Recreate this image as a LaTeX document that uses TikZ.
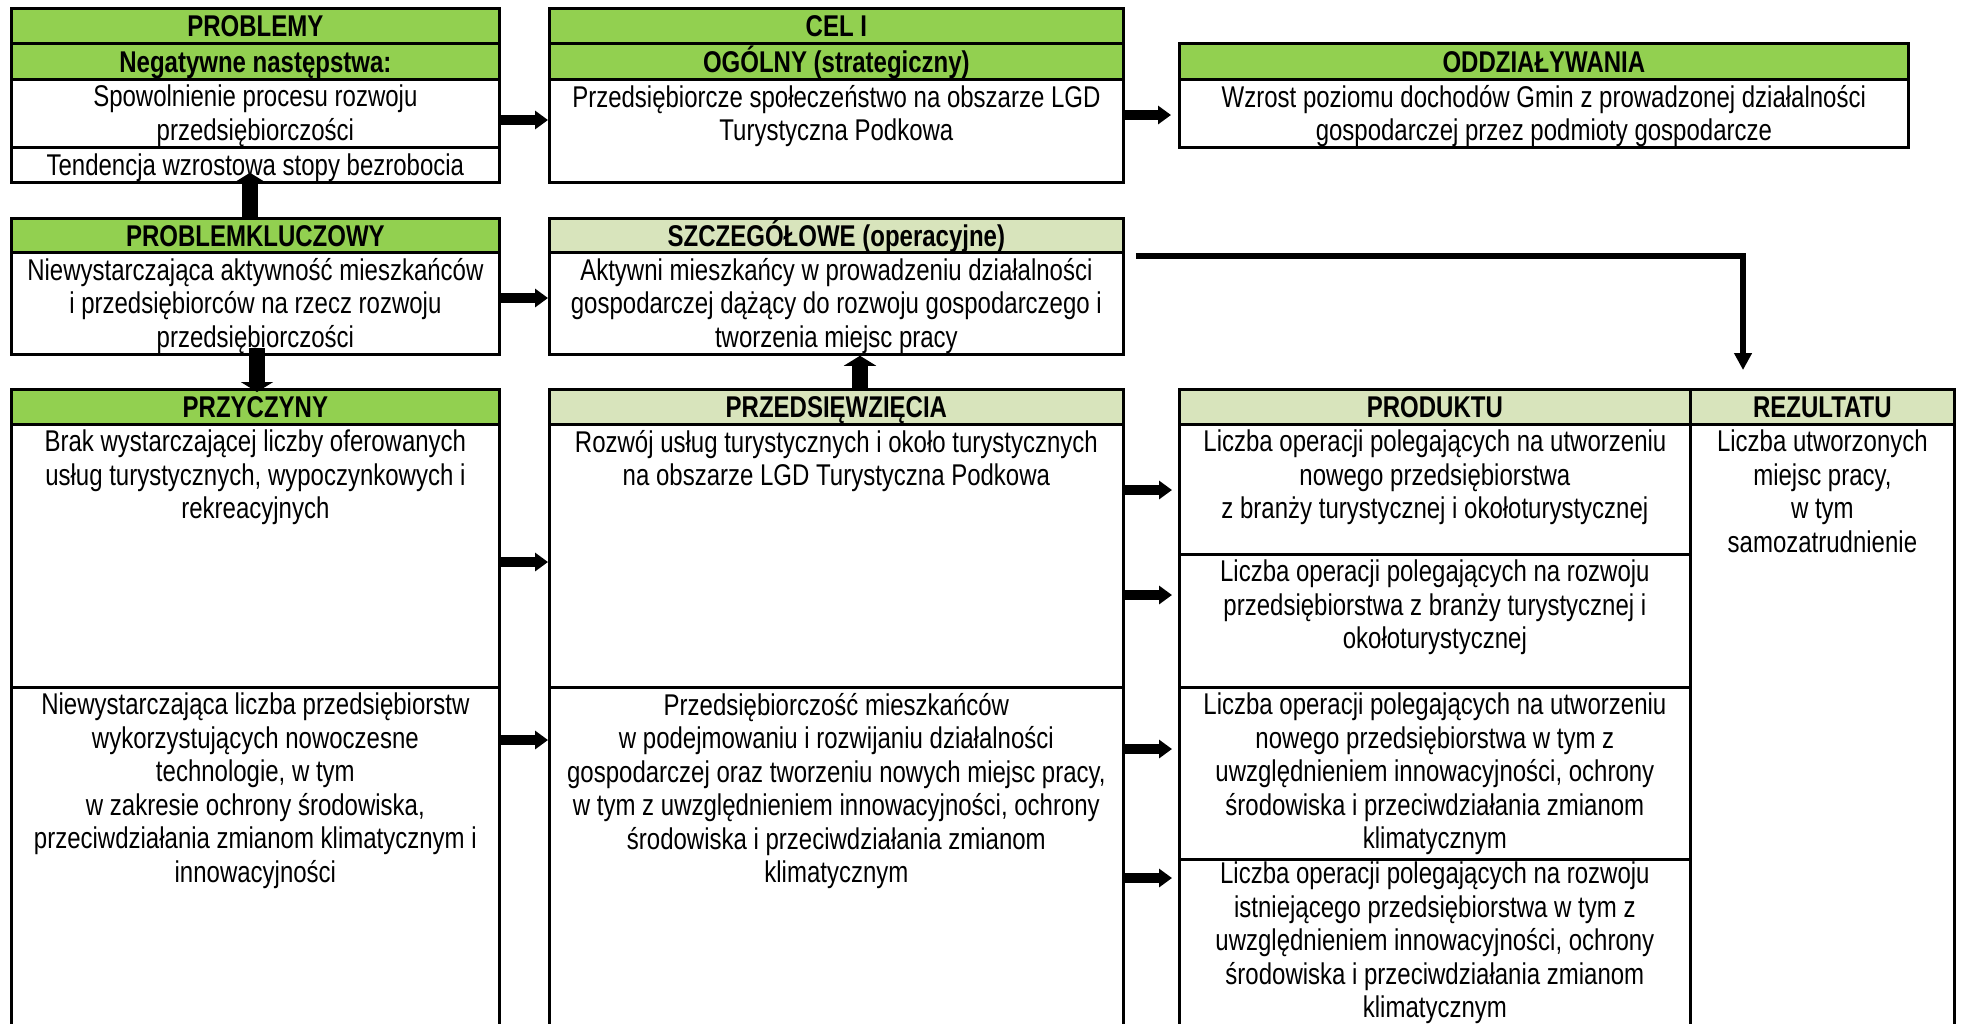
\documentclass[tikz,border=0pt]{standalone}
\usepackage{fontspec}
\setmainfont{Liberation Sans}[FakeStretch=0.8]
\usetikzlibrary{arrows.meta}

\definecolor{pgreen}{HTML}{92D050}
\definecolor{lgreen}{HTML}{D8E4BC}
\newcommand{\cellfont}{\fontsize{12}{13.4}\selectfont}

\tikzset{
  cellbox/.style 2 args={draw, line width=1.1pt, anchor=north west, inner sep=0pt,
    minimum width=#1*0.4pt, minimum height=#2*0.4pt, text height=8.6pt, text depth=0pt},
  hdr/.style={fill=pgreen, font=\cellfont\bfseries},
  lhdr/.style={fill=lgreen, font=\cellfont\bfseries},
  txt/.style={anchor=north, align=center, inner sep=0pt, yshift=-2.6pt,
    execute at begin node=\strut},
  harrow/.style={line width=4pt, -{Triangle[length=5.2pt,width=7.2pt]}},
  varrow/.style={line width=6.4pt, -{Triangle[length=4pt,width=12.8pt]}},
  conn/.style={line width=2.2pt, -{Triangle[length=6.8pt,width=6.8pt]}}
}

\begin{document}
\begin{tikzpicture}[x=0.4pt, y=-0.4pt, font=\cellfont]
        \clip (0,0) rectangle (1963,1023);

        % problemy
        \node[cellbox={488}{35}, hdr] (pbm) at (10,7) {PROBLEMY};
        \node[cellbox={488}{36}, hdr] (neg) at (10,42) {Negatywne następstwa:};
        \node[cellbox={488}{68}] (spow) at (10,78) {};
        \node[txt] (spowt) at (spow.north) {Spowolnienie procesu rozwoju\\przedsiębiorczości};
        \node[cellbox={488}{35}] (tend) at (10,146) {Tendencja wzrostowa stopy bezrobocia};

        \node[cellbox={488}{34}, hdr] (pk) at (10,217) {PROBLEMKLUCZOWY};
        \node[cellbox={488}{102}] (pkb) at (10,251) {};
        \node[txt] (pkbt) at (pkb.north) {Niewystarczająca aktywność mieszkańców\\i przedsiębiorców na rzecz rozwoju\\przedsiębiorczości};

        \node[cellbox={488}{35}, hdr] (prz) at (10,388) {PRZYCZYNY};
        \node[cellbox={488}{263}] (prz1) at (10,423) {};
        \node[txt] (prz1t) at (prz1.north) {Brak wystarczającej liczby oferowanych\\usług turystycznych, wypoczynkowych i\\rekreacyjnych};
        \node[cellbox={488}{345}] (prz2) at (10,686) {};
        \node[txt] (prz2t) at (prz2.north) {Niewystarczająca liczba przedsiębiorstw\\wykorzystujących nowoczesne\\technologie, w tym\\w zakresie ochrony środowiska,\\przeciwdziałania zmianom klimatycznym i\\innowacyjności};

        % cele
        \node[cellbox={574}{35}, hdr] (cel) at (548,7) {CEL I};
        \node[cellbox={574}{36}, hdr] (ogol) at (548,42) {OGÓLNY (strategiczny)};
        \node[cellbox={574}{103}] (celb) at (548,78) {};
        \node[txt] (celbt) at (celb.north) {Przedsiębiorcze społeczeństwo na obszarze LGD\\Turystyczna Podkowa};

        \node[cellbox={574}{34}, lhdr] (szcz) at (548,217) {SZCZEGÓŁOWE (operacyjne)};
        \node[cellbox={574}{102}] (szczb) at (548,251) {};
        \node[txt] (szczbt) at (szczb.north) {Aktywni mieszkańcy w prowadzeniu działalności\\gospodarczej dążący do rozwoju gospodarczego i\\tworzenia miejsc pracy};

        \node[cellbox={574}{35}, lhdr] (przd) at (548,388) {PRZEDSIĘWZIĘCIA};
        \node[cellbox={574}{263}] (przd1) at (548,423) {};
        \node[txt] (przd1t) at (przd1.north) {Rozwój usług turystycznych i około turystycznych\\na obszarze LGD Turystyczna Podkowa};
        \node[cellbox={574}{345}] (przd2) at (548,686) {};
        \node[txt] (przd2t) at (przd2.north) {Przedsiębiorczość mieszkańców\\w podejmowaniu i rozwijaniu działalności\\gospodarczej oraz tworzeniu nowych miejsc pracy,\\w tym z uwzględnieniem innowacyjności, ochrony\\środowiska i przeciwdziałania zmianom\\klimatycznym};

        % wskazniki
        \node[cellbox={729}{36}, hdr] (oddz) at (1178,42) {ODDZIAŁYWANIA};
        \node[cellbox={729}{68}] (oddzb) at (1178,78) {};
        \node[txt] (oddzt) at (oddzb.north) {Wzrost poziomu dochodów Gmin z prowadzonej działalności\\gospodarczej przez podmioty gospodarcze};

        \node[cellbox={511}{35}, lhdr] (prod) at (1178,388) {PRODUKTU};
        \node[cellbox={511}{130}] (prod1) at (1178,423) {};
        \node[txt] (prod1t) at (prod1.north) {Liczba operacji polegających na utworzeniu\\nowego przedsiębiorstwa\\z branży turystycznej i okołoturystycznej};
        \node[cellbox={511}{133}] (prod2) at (1178,553) {};
        \node[txt] (prod2t) at (prod2.north) {Liczba operacji polegających na rozwoju\\przedsiębiorstwa z branży turystycznej i\\okołoturystycznej};
        \node[cellbox={511}{172}] (prod3) at (1178,686) {};
        \node[txt] (prod3t) at (prod3.north) {Liczba operacji polegających na utworzeniu\\nowego przedsiębiorstwa w tym z\\uwzględnieniem innowacyjności, ochrony\\środowiska i przeciwdziałania zmianom\\klimatycznym};
        \node[cellbox={511}{180}] (prod4) at (1178,858) {};
        \node[txt, yshift=1.2pt] (prod4t) at (prod4.north) {Liczba operacji polegających na rozwoju\\istniejącego przedsiębiorstwa w tym z\\uwzględnieniem innowacyjności, ochrony\\środowiska i przeciwdziałania zmianom\\klimatycznym};

        \node[cellbox={264}{35}, lhdr] (rez) at (1689,388) {REZULTATU};
        \node[cellbox={264}{610}] (rezb) at (1689,423) {};
        \node[txt] (rezt) at (rezb.north) {Liczba utworzonych\\miejsc pracy,\\w tym\\samozatrudnienie};

        % strzalki
        \draw[harrow] (spow.east |- 0,120) -- (celb.west |- 0,120);
        \draw[harrow, shorten >=2.8pt] (celb.east |- 0,115) -- (oddzb.west |- 0,115);
        \draw[harrow] (pkb.east |- 0,298) -- (szczb.west |- 0,298);
        \draw[harrow] (prz1.east |- 0,562) -- (przd1.west |- 0,562);
        \draw[harrow] (prz2.east |- 0,740) -- (przd2.west |- 0,740);
        \draw[harrow, shorten >=2.4pt] (przd1.east |- 0,490) -- (prod1.west |- 0,490);
        \draw[harrow, shorten >=2.4pt] (przd1.east |- 0,595) -- (prod2.west |- 0,595);
        \draw[harrow, shorten >=2.4pt] (przd2.east |- 0,749) -- (prod3.west |- 0,749);
        \draw[harrow, shorten >=2.4pt] (przd2.east |- 0,878) -- (prod4.west |- 0,878);

        \draw[varrow, shorten >=-4.4pt] (pk.north -| 250,0) -- (tend.south -| 250,0);
        \draw[varrow, shorten <=-3pt, shorten >=-1.6pt] (pkb.south -| 257,0) -- (prz.north -| 257,0);
        \draw[varrow] (przd.north -| 860,0) -- (szczb.south -| 860,0);

        \coordinate (rezin) at (1743,370);
        \draw[conn, shorten <=4.4pt] (szczb.east |- 0,256) -| (rezin);
      \end{tikzpicture}
\end{document}
